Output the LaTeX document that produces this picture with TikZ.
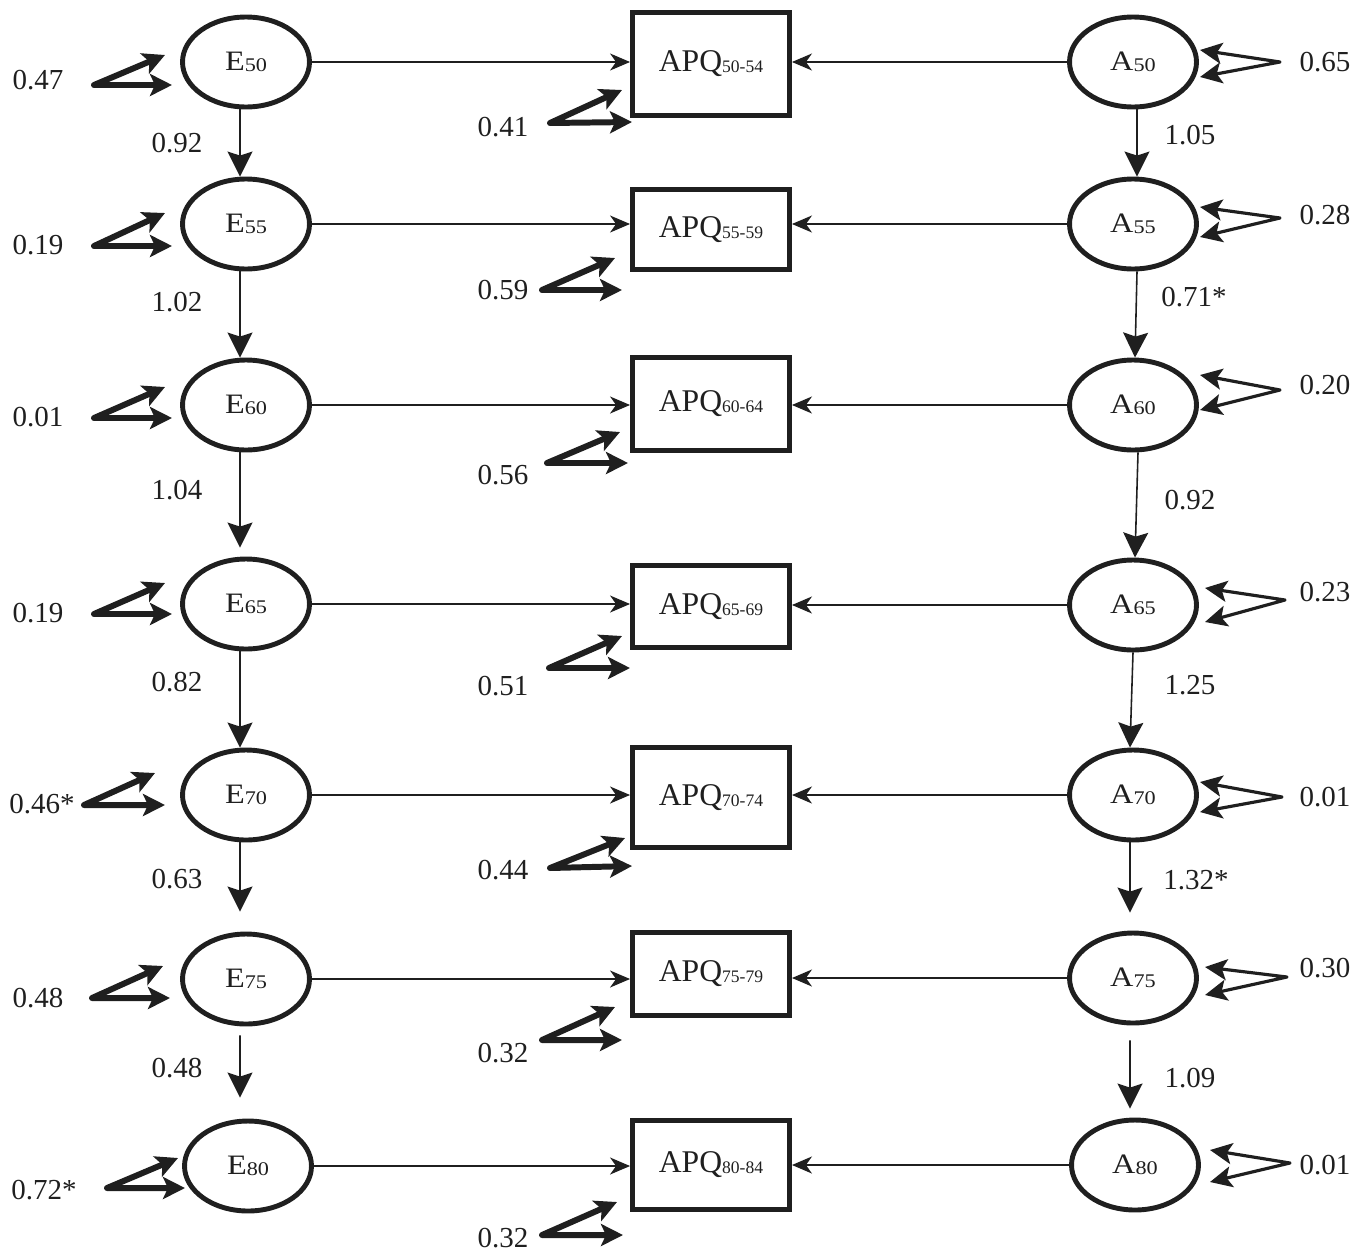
\documentclass[tikz,border=0pt]{standalone}
\usepackage{fontspec}
\setmainfont{Liberation Serif}
\usetikzlibrary{arrows.meta,shapes.geometric}
\definecolor{ink}{gray}{0.12}
\newcommand\numfont{\fontsize{16.5pt}{18pt}\selectfont}
\newcommand\latlab[2]{\scalebox{1.15}[1]{\fontsize{16pt}{18pt}\selectfont #1\raisebox{-0.5pt}{\fontsize{11pt}{12pt}\selectfont #2}}}
\newcommand\apqlab[1]{{\fontsize{18pt}{20pt}\selectfont APQ\raisebox{-0.6pt}{\fontsize{10pt}{11pt}\selectfont #1}}}
\begin{document}
\begin{tikzpicture}[x=0.02cm,y=-0.02cm, color=ink,
  lat/.style={ellipse,draw,line width=2.8pt,minimum width=2.54cm,minimum height=1.8cm,inner sep=0pt},
  obs/.style={rectangle,draw,line width=2.8pt,minimum width=3.14cm,inner sep=0pt},
  hpath/.style={line width=0.9pt,-{Stealth[length=0.4cm,width=0.34cm,inset=0.12cm]}},
  vpath/.style={line width=0.9pt,-{Stealth[length=0.5cm,width=0.5cm,inset=0.08cm]}},
  eres/.style={line width=3.4pt,line join=round,line cap=round,{Stealth[length=0.44cm,width=0.44cm,inset=0.1cm]}-{Stealth[length=0.44cm,width=0.44cm,inset=0.1cm]}},
  ares/.style={line width=1.8pt,line join=round,{Stealth[length=0.44cm,width=0.42cm,inset=0.1cm]}-{Stealth[length=0.44cm,width=0.42cm,inset=0.1cm]}},
  num/.style={font=\numfont,inner sep=0pt}
]
\useasboundingbox (0,0) rectangle (1368,1254);

% latent and observed variables
\foreach \i/\ex/\ey/\by/\bh/\ax/\ay in {50/246/62/64/2.06/1133/62, 55/246/224/229.5/1.6/1133/224, 60/246/405/404/1.86/1133/405, 65/246/604/606.5/1.64/1133/605, 70/246/795/797.5/2.0/1133/795, 75/246/979/974/1.66/1133/978, 80/248/1166/1165/1.78/1135/1165}{
  \pgfmathtruncatemacro\j{\i+4}
  \node[lat] (E\i) at (\ex,\ey) {\latlab{E}{\i}};
  \node[lat] (A\i) at (\ax,\ay) {\latlab{A}{\i}};
  \node[obs,minimum height=\bh cm] (B\i) at (711,\by) {\apqlab{\i-\j}};
  \draw[hpath] (E\i.east) -- (E\i.east -| B\i.west);
  \draw[hpath] (A\i.west) -- (A\i.west -| B\i.east);
}

% residuals of E
\foreach \i/\vx/\vy/\ux/\uy/\lx/\ly/\tx/\ty/\t in {
  50/94/85/165/55/172/85/38/80/0.47,
  55/94/246/165/213/172/246/38/245/0.19,
  60/94/418/165/387/172/418/38/417/0.01,
  65/94/614/165/583/172/614/38/613/0.19,
  70/84/805/155/773/165/805/42/804/0.46*,
  75/92/998/163/966/170/998/38/998/0.48,
  80/107/1188/178/1158/185/1188/44/1190/0.72*}{
  \coordinate (eV\i) at (\vx,\vy);
  \coordinate (eU\i) at (\ux,\uy);
  \coordinate (eL\i) at (\lx,\ly);
  \draw[eres] (eU\i) -- (eV\i) -- (eL\i);
  \node[num] (eT\i) at (\tx,\ty) {\t};
}

% residuals of APQ
\foreach \i/\vx/\vy/\ux/\uy/\lx/\ly/\ty/\t in {
  50/550/123/622/90/632/122/127/0.41,
  55/542/290/615/258/622/290/290/0.59,
  60/547/463/620/432/628/463/475/0.56,
  65/549/668/622/636/630/668/686/0.51,
  70/550/868/625/838/632/866/870/0.44,
  75/542/1040/615/1007/622/1040/1053/0.32,
  80/542/1235/617/1202/623/1235/1238/0.32}{
  \coordinate (bV\i) at (\vx,\vy);
  \coordinate (bU\i) at (\ux,\uy);
  \coordinate (bL\i) at (\lx,\ly);
  \draw[eres] (bU\i) -- (bV\i) -- (bL\i);
  \node[num] (bT\i) at (503,\ty) {\t};
}

% residuals of A
\foreach \i/\ux/\uy/\ly/\vx/\vy/\ty/\t in {
  50/1200/50/77/1280/62/62/0.65,
  55/1200/207/237/1280/218/215/0.28,
  60/1200/375/410/1280/390/385/0.20,
  65/1205/588/622/1285/600/592/0.23,
  70/1200/782/812/1282/797/797/0.01,
  75/1205/967/995/1287/977/968/0.30,
  80/1210/1150/1182/1290/1163/1165/0.01}{
  \coordinate (aV\i) at (\vx,\vy);
  \coordinate (aU\i) at (\ux,\uy);
  \coordinate (aL\i) at (\ux,\ly);
  \draw[ares] (aU\i) -- (aV\i) -- (aL\i);
  \node[num] (aT\i) at (1325,\ty) {\t};
}

% stability paths E
\draw[vpath] ([xshift=-0.12cm]E50.south) -- ([xshift=-0.12cm]E55.north);
\draw[vpath] ([xshift=-0.12cm]E55.south) -- ([xshift=-0.12cm]E60.north);
\draw[vpath,shorten >=0.18cm] ([xshift=-0.12cm]E60.south) -- ([xshift=-0.12cm]E65.north);
\draw[vpath] ([xshift=-0.12cm]E65.south) -- ([xshift=-0.12cm]E70.north);
\draw[vpath,shorten >=0.4cm] ([xshift=-0.12cm]E70.south) -- ([xshift=-0.12cm]E75.north);
\draw[vpath,shorten <=0.18cm,shorten >=0.42cm] ([xshift=-0.12cm]E75.south) -- ([xshift=-0.16cm]E80.north);
\node[num] (l1) at (177,143) {0.92};
\node[num] (l2) at (177,302) {1.02};
\node[num] (l3) at (177,490) {1.04};
\node[num] (l4) at (177,682) {0.82};
\node[num] (l5) at (177,879) {0.63};
\node[num] (l6) at (177,1068) {0.48};

% stability paths A
\draw[vpath] ([xshift=0.08cm]A50.south) -- ([xshift=0.08cm]A55.north);
\draw[vpath] ([xshift=0.08cm]A55.south) -- ([xshift=0.04cm]A60.north);
\draw[vpath] ([xshift=0.1cm]A60.south) -- ([xshift=0.04cm]A65.north);
\draw[vpath] (A65.south) -- ([xshift=-0.06cm]A70.north);
\draw[vpath,shorten >=0.36cm] ([xshift=-0.06cm]A70.south) -- ([xshift=-0.06cm]A75.north);
\draw[vpath,shorten <=0.3cm,shorten >=0.18cm] ([xshift=-0.06cm]A75.south) -- ([xshift=-0.1cm]A80.north);
\node[num] (r1) at (1190,135) {1.05};
\node[num] (r2) at (1194,297) {0.71*};
\node[num] (r3) at (1190,500) {0.92};
\node[num] (r4) at (1190,685) {1.25};
\node[num] (r5) at (1196,880) {1.32*};
\node[num] (r6) at (1190,1078) {1.09};
\end{tikzpicture}
\end{document}
